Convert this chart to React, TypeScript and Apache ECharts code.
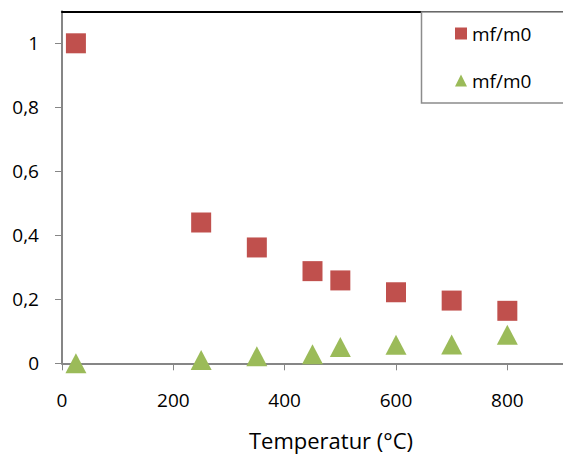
import React, { useEffect, useRef } from "react";
import * as echarts from "echarts";

const seriesName = "mf/m0";
const temperatures = [25, 250, 350, 450, 500, 600, 700, 800];
const redValues = [1.0, 0.44, 0.362, 0.288, 0.259, 0.222, 0.196, 0.164];
const greenValues = [0.0, 0.01, 0.022, 0.028, 0.051, 0.058, 0.059, 0.089];
const xTicks = [0, 200, 400, 600, 800];
const yTicks = [0, 0.2, 0.4, 0.6, 0.8, 1];
const xAxisTitle = "Temperatur (°C)";

const FONT = "'Open Sans', 'Liberation Sans', sans-serif";

export default function App() {
  const ref = useRef<HTMLDivElement>(null);
  useEffect(() => {
    document.body.style.margin = "0";
    const chart = echarts.init(ref.current!, null, { renderer: "svg" });
    const axisGray = "#868686";
    chart.setOption({
      animation: false,
      backgroundColor: "#ffffff",
      grid: { left: 62, right: -3, top: 11.3, bottom: 90.7, containLabel: false },
      xAxis: [
        {
          type: "value",
          min: 0,
          max: 900,
          interval: 200,
          splitLine: { show: false },
          axisLine: { show: true, onZero: false, lineStyle: { color: axisGray, width: 2 } },
          axisTick: { show: true, inside: false, length: 7, customValues: xTicks, lineStyle: { color: axisGray, width: 1 } },
          axisLabel: { customValues: xTicks, margin: 27, color: "#000", fontSize: 19, fontFamily: FONT },
        },
        {
          type: "value",
          position: "top",
          min: 0,
          max: 900,
          splitLine: { show: false },
          axisLine: { show: true, onZero: false, lineStyle: { color: "#000", width: 2 } },
          axisTick: { show: false },
          axisLabel: { show: false },
        },
      ],
      yAxis: {
        type: "value",
        min: 0,
        max: 1.1,
        interval: 0.2,
        splitLine: { show: false },
        axisLine: { show: true, onZero: false, lineStyle: { color: axisGray, width: 2 } },
        axisTick: { show: true, length: 7, customValues: yTicks, lineStyle: { color: axisGray, width: 1 } },
        axisLabel: {
          customValues: yTicks,
          margin: 23,
          color: "#000",
          fontSize: 19,
          fontFamily: FONT,
          formatter: (v: number) => String(Math.round(v * 10) / 10).replace(".", ","),
        },
      },
      legend: {
        orient: "vertical",
        left: 455,
        top: 24,
        padding: 0,
        itemGap: 28,
        itemWidth: 12,
        itemHeight: 12,
        textStyle: { fontSize: 19, fontFamily: FONT, color: "#000" },
        data: [
          { name: seriesName + " ", icon: "rect" },
          { name: seriesName + "  ", icon: "triangle" },
        ],
        formatter: (n: string) => n.trim(),
        z: 10,
      },
      graphic: [
        {
          type: "rect",
          z: 5,
          shape: { x: 421.5, y: 12, width: 160, height: 91 },
          style: { fill: "#ffffff", stroke: "#8c8c8c", lineWidth: 1.5 },
        },
        {
          type: "text",
          z: 5,
          x: 331,
          y: 440,
          style: {
            text: xAxisTitle,
            fontSize: 22,
            fontFamily: FONT,
            fill: "#000",
            align: "center",
            verticalAlign: "middle",
          },
        },
      ],
      series: [
        {
          name: seriesName + " ",
          type: "scatter",
          symbol: "rect",
          symbolSize: 20,
          itemStyle: { color: "#C0504D", opacity: 1 },
          data: temperatures.map((t, i) => [t, redValues[i]]),
        },
        {
          name: seriesName + "  ",
          type: "scatter",
          symbol: "triangle",
          symbolSize: [21, 20],
          itemStyle: { color: "#9BBB59", opacity: 1 },
          data: temperatures.map((t, i) => [t, greenValues[i]]),
        },
      ],
    });
    return () => chart.dispose();
  }, []);
  return <div ref={ref} style={{ width: 563, height: 454 }} />;
}
